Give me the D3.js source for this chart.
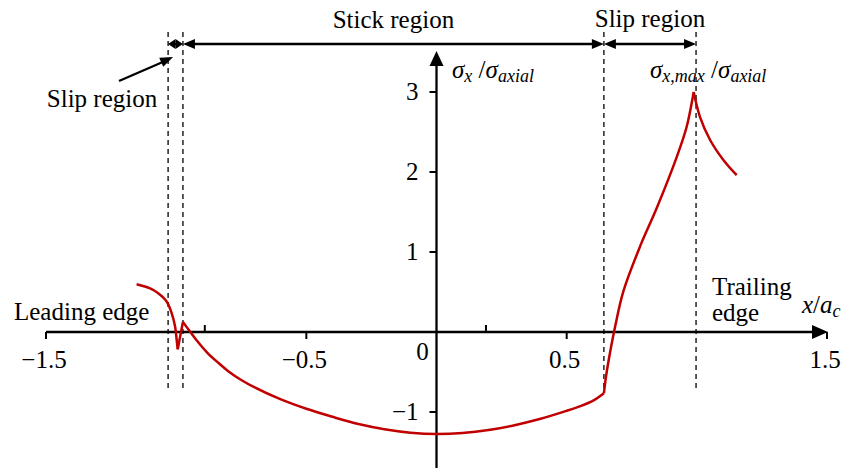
<!DOCTYPE html>
<html>
<head>
<meta charset="utf-8">
<script src="https://cdn.jsdelivr.net/npm/d3@7"></script>
<style>
  html, body { margin: 0; padding: 0; background: #fff; }
  svg { display: block; }
  text { font-family: "Liberation Serif", "Times New Roman", serif; fill: #000; }
</style>
</head>
<body>
<svg id="chart" width="841" height="468"></svg>
<script>
// Normalised stress along the contact, x/a_c vs sigma_x / sigma_axial
// Curve pieces (joined at shared end points, sharp corners between them)
const leadOuter = [[-1.152, 0.596], [-1.1, 0.545], [-1.069, 0.484], [-1.036, 0.379],
                   [-1.017, 0.233], [-1.004, 0.066], [-0.998, -0.100], [-0.994, -0.216]];
const leadSlip = [[-0.994, -0.216], [-0.974, 0.125]];
const stick = [[-0.974, 0.125], [-0.95, 0.02], [-0.92, -0.11], [-0.88, -0.26],
               [-0.84, -0.38], [-0.8, -0.49], [-0.75, -0.6], [-0.7, -0.69],
               [-0.6, -0.84], [-0.5, -0.96], [-0.4, -1.06], [-0.3, -1.15],
               [-0.2, -1.215], [-0.1, -1.258], [0, -1.275], [0.1, -1.262],
               [0.2, -1.225], [0.3, -1.165], [0.4, -1.085], [0.5, -0.985],
               [0.55, -0.93], [0.6, -0.862], [0.643, -0.766]];
const trailSlip = [[0.643, -0.766], [0.651, -0.559], [0.667, -0.25], [0.686, 0.066],
                   [0.718, 0.51], [0.782, 1.07], [0.846, 1.55], [0.923, 2.19],
                   [0.961, 2.566], [0.988, 3.0]];
const trailOuter = [[0.988, 3.0], [1.012, 2.69], [1.051, 2.4], [1.102, 2.15], [1.153, 1.96]];

// Region boundaries (x/a_c): contact edge, stick/slip limits, trailing edge
const boundaries = [-1.031, -0.974, 0.643, 0.997];
const xTicks = [-1.5, -0.5, 0.5, 1.5];
const xTickLabels = ["\u22121.5", "\u22120.5", "0.5", "1.5"];
const xMinorTicks = [-0.89, 0.19];
const yTicks = [-1, 1, 2, 3];
const yTickLabels = ["\u22121", "1", "2", "3"];

const svg = d3.select("#chart");
const x = d3.scaleLinear().domain([-1.5, 1.5]).range([46, 827]);
const y = d3.scaleLinear().domain([0, 3]).range([332, 92]);

const red = "#c00000";
const FS = 25;

function arrowHead(g, tipX, tipY, dx, dy, len, half) {
  // filled triangle pointing along (dx, dy)
  const n = Math.hypot(dx, dy); const ux = dx / n, uy = dy / n;
  const bx = tipX - ux * len, by = tipY - uy * len;
  const px = -uy * half, py = ux * half;
  g.append("path")
    .attr("d", `M${tipX},${tipY}L${bx + px},${by + py}L${bx - px},${by - py}Z`)
    .attr("fill", "#000");
}

// ---- dashed boundary lines
const gDash = svg.append("g");
boundaries.forEach(b => {
  gDash.append("line")
    .attr("x1", x(b)).attr("x2", x(b))
    .attr("y1", 32).attr("y2", 392)
    .attr("stroke", "#000").attr("stroke-width", 1.3)
    .attr("stroke-dasharray", "5,4");
});

// ---- axes
const gAx = svg.append("g");
gAx.append("line").attr("x1", x(-1.5)).attr("x2", x(1.5) - 8)
  .attr("y1", y(0)).attr("y2", y(0)).attr("stroke", "#000").attr("stroke-width", 2.3);
arrowHead(gAx, x(1.5) + 1, y(0), 1, 0, 16, 7);
gAx.append("line").attr("x1", x(0)).attr("x2", x(0))
  .attr("y1", 470).attr("y2", 60).attr("stroke", "#000").attr("stroke-width", 2.3);
arrowHead(gAx, x(0), 51, 0, -1, 15, 7);

xTicks.forEach(t => {
  gAx.append("line").attr("x1", x(t)).attr("x2", x(t))
    .attr("y1", y(0)).attr("y2", y(0) + 7).attr("stroke", "#000").attr("stroke-width", 2);
});
xMinorTicks.forEach(t => {
  gAx.append("line").attr("x1", x(t)).attr("x2", x(t))
    .attr("y1", y(0)).attr("y2", y(0) - 7).attr("stroke", "#000").attr("stroke-width", 2);
});
yTicks.forEach(t => {
  gAx.append("line").attr("x1", x(0) - 7).attr("x2", x(0))
    .attr("y1", y(t)).attr("y2", y(t)).attr("stroke", "#000").attr("stroke-width", 2);
});

const gLab = svg.append("g").attr("font-size", FS);
xTicks.forEach((t, i) => {
  gLab.append("text").attr("x", x(t) - 2).attr("y", y(0) + 36)
    .attr("text-anchor", "middle").text(xTickLabels[i]);
});
gLab.append("text").attr("x", x(0) - 14).attr("y", y(0) + 28)
  .attr("text-anchor", "middle").text("0");
yTicks.forEach((t, i) => {
  gLab.append("text").attr("x", x(0) - 18).attr("y", y(t) + 8)
    .attr("text-anchor", "end").text(yTickLabels[i]);
});

// ---- curve
const line = d3.line().x(d => x(d[0])).y(d => y(d[1])).curve(d3.curveCatmullRom.alpha(0.5));
const gCurve = svg.append("g");
[leadOuter, leadSlip, stick, trailSlip, trailOuter].forEach(seg => {
  gCurve.append("path").attr("d", line(seg))
    .attr("fill", "none").attr("stroke", red).attr("stroke-width", 2.5)
    .attr("stroke-linejoin", "miter").attr("stroke-linecap", "butt");
});

// ---- region arrows across the top
const gArr = svg.append("g");
const arrowY = 44;
function dimArrow(a, b) {
  const x1 = x(a), x2 = x(b);
  gArr.append("line").attr("x1", x1 + 6).attr("x2", x2 - 6)
    .attr("y1", arrowY).attr("y2", arrowY).attr("stroke", "#000").attr("stroke-width", 2.3);
  const len = Math.min(12, (x2 - x1) / 2);
  arrowHead(gArr, x1, arrowY, -1, 0, len, 5);
  arrowHead(gArr, x2, arrowY, 1, 0, len, 5);
}
dimArrow(boundaries[0], boundaries[1]);
dimArrow(boundaries[1], boundaries[2]);
dimArrow(boundaries[2], boundaries[3]);

gLab.append("text").attr("x", x((boundaries[1] + boundaries[2]) / 2)).attr("y", 28)
  .attr("text-anchor", "middle").text("Stick region");
gLab.append("text").attr("x", x((boundaries[2] + boundaries[3]) / 2)).attr("y", 27)
  .attr("text-anchor", "middle").text("Slip region");

// pointer to the narrow leading slip zone
const ptrStart = [119, 81], ptrEnd = [x(boundaries[0]) + 5, 57];
gArr.append("line").attr("x1", ptrStart[0]).attr("y1", ptrStart[1])
  .attr("x2", ptrEnd[0] - 8).attr("y2", ptrEnd[1] + 4)
  .attr("stroke", "#000").attr("stroke-width", 2.3);
arrowHead(gArr, ptrEnd[0], ptrEnd[1], ptrEnd[0] - ptrStart[0], ptrEnd[1] - ptrStart[1], 13, 5);
gLab.append("text").attr("x", 102).attr("y", 107)
  .attr("text-anchor", "middle").text("Slip region");

gLab.append("text").attr("x", 14).attr("y", 320).text("Leading edge");
gLab.append("text").attr("x", 712).attr("y", 295).text("Trailing");
gLab.append("text").attr("x", 712).attr("y", 321).text("edge");

// axis titles
function sigmaRatio(tx, ty, sub1) {
  const t = gLab.append("text").attr("x", tx).attr("y", ty).attr("font-style", "italic");
  t.append("tspan").text("\u03c3");
  t.append("tspan").attr("font-size", 18).attr("dy", 4).text(sub1);
  t.append("tspan").attr("dy", -4).attr("font-style", "normal").text(" /");
  t.append("tspan").text("\u03c3");
  t.append("tspan").attr("font-size", 18).attr("dy", 4).text("axial");
}
sigmaRatio(452, 78, "x");
sigmaRatio(650, 78, "x,max");

const xt = gLab.append("text").attr("x", 802).attr("y", 313).attr("font-style", "italic");
xt.append("tspan").text("x");
xt.append("tspan").attr("font-style", "normal").text("/");
xt.append("tspan").text("a");
xt.append("tspan").attr("font-size", 18).attr("dy", 4).text("c");
</script>
</body>
</html>
